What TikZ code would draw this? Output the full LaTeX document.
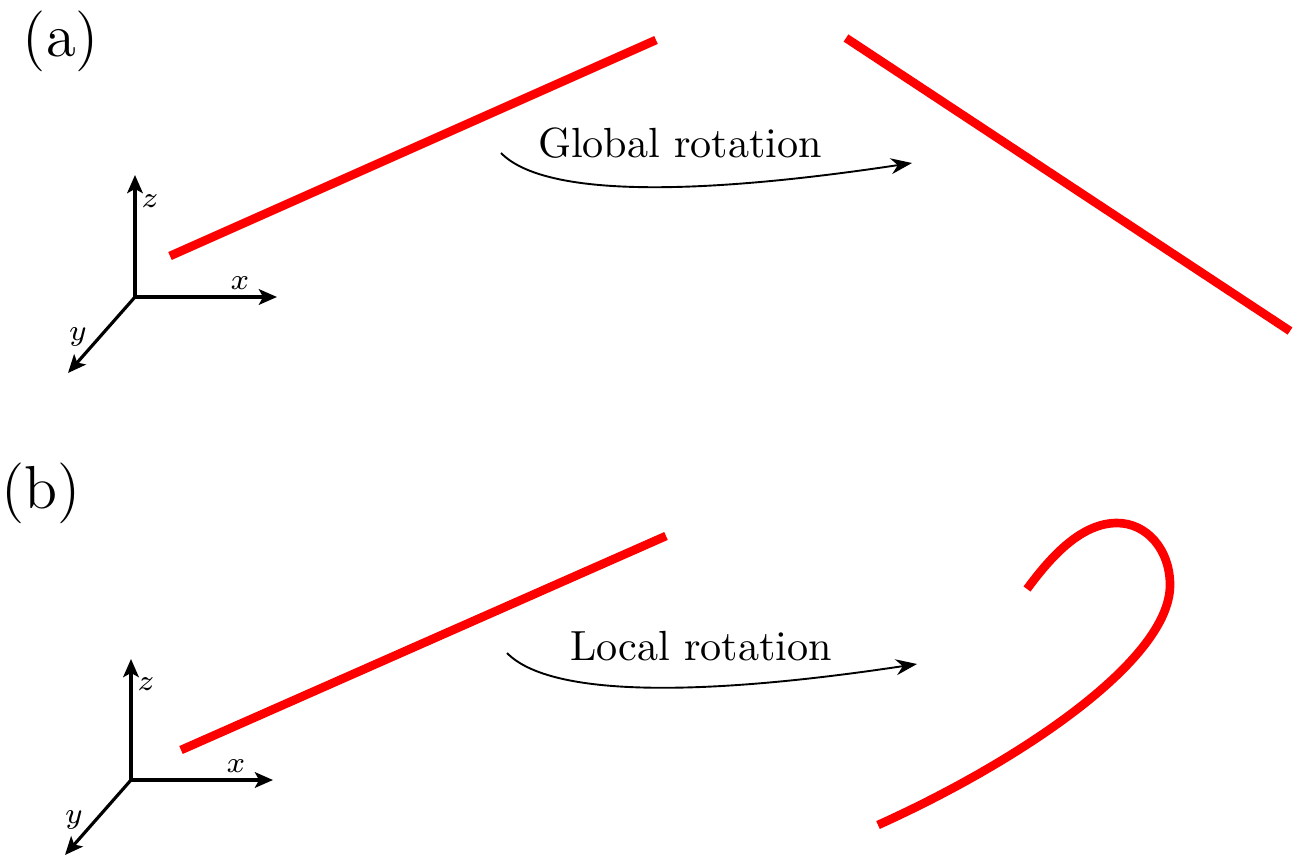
\documentclass[tikz,border=0pt]{standalone}
\usetikzlibrary{arrows.meta}
\definecolor{rodred}{HTML}{FF0000}
\tikzset{
  rod/.style={rodred,line width=2.05pt},
  axis/.style={line width=0.75pt,-{Stealth[length=4.3pt,width=3.7pt,inset=1pt]}},
  axlabel/.style={font=\scriptsize,inner sep=0pt},
  tag/.style={font=\Large,anchor=base},
  turn/.style={line width=0.45pt,->},
}

\begin{document}
\begin{tikzpicture}[x=0.2371pt,y=-0.2371pt,>=Stealth]
\useasboundingbox (0,0) rectangle (1296,857);
% (a) 整体转动：杆只是换了方向
\node[tag] (tagA) at (61,57) {(a)};
\coordinate (oA) at (135,297);
\draw[axis] (oA) -- (135,175) coordinate (zA);
\draw[axis] (oA) -- (277,297) coordinate (xA);
\draw[axis] (oA) -- (68,373) coordinate (yA);
\node[axlabel] (zlabA) at (150,201) {$z$};
\node[axlabel] (xlabA) at (240,283) {$x$};
\node[axlabel] (ylabA) at (78,337) {$y$};
\draw[rod] (170,256) -- (656,40);
\draw[rod] (846,38) -- (1290,331);
\node[anchor=base] (glob) at (680,158) {Global rotation};
\coordinate (gS) at (501,153);
\coordinate (gE) at (912,163);
\draw[turn] (gS) .. controls (545,198) and (700,195) .. (gE);
% (b) 局部转动：杆被弯成钩形
\node[tag] (tagB) at (41,508) {(b)};
\coordinate (oB) at (131,780);
\draw[axis] (oB) -- (131,659) coordinate (zB);
\draw[axis] (oB) -- (273,780) coordinate (xB);
\draw[axis] (oB) -- (65,855) coordinate (yB);
\node[axlabel] (zlabB) at (146,684) {$z$};
\node[axlabel] (xlabB) at (236,766) {$x$};
\node[axlabel] (ylabB) at (74,820) {$y$};
\draw[rod] (181,750) -- (666,536);
\node[anchor=base] (loc) at (701,660) {Local rotation};
\coordinate (lS) at (507,653);
\coordinate (lE) at (917,664);
\draw[turn] (lS) .. controls (551,698) and (705,696) .. (lE);
\draw[rod] (878,825) .. controls (1020,761) and (1170,660) .. (1170,585)
  .. controls (1170,550) and (1147,523) .. (1117,523)
  .. controls (1082,523) and (1052,555) .. (1027,589);
\end{tikzpicture}
\end{document}
